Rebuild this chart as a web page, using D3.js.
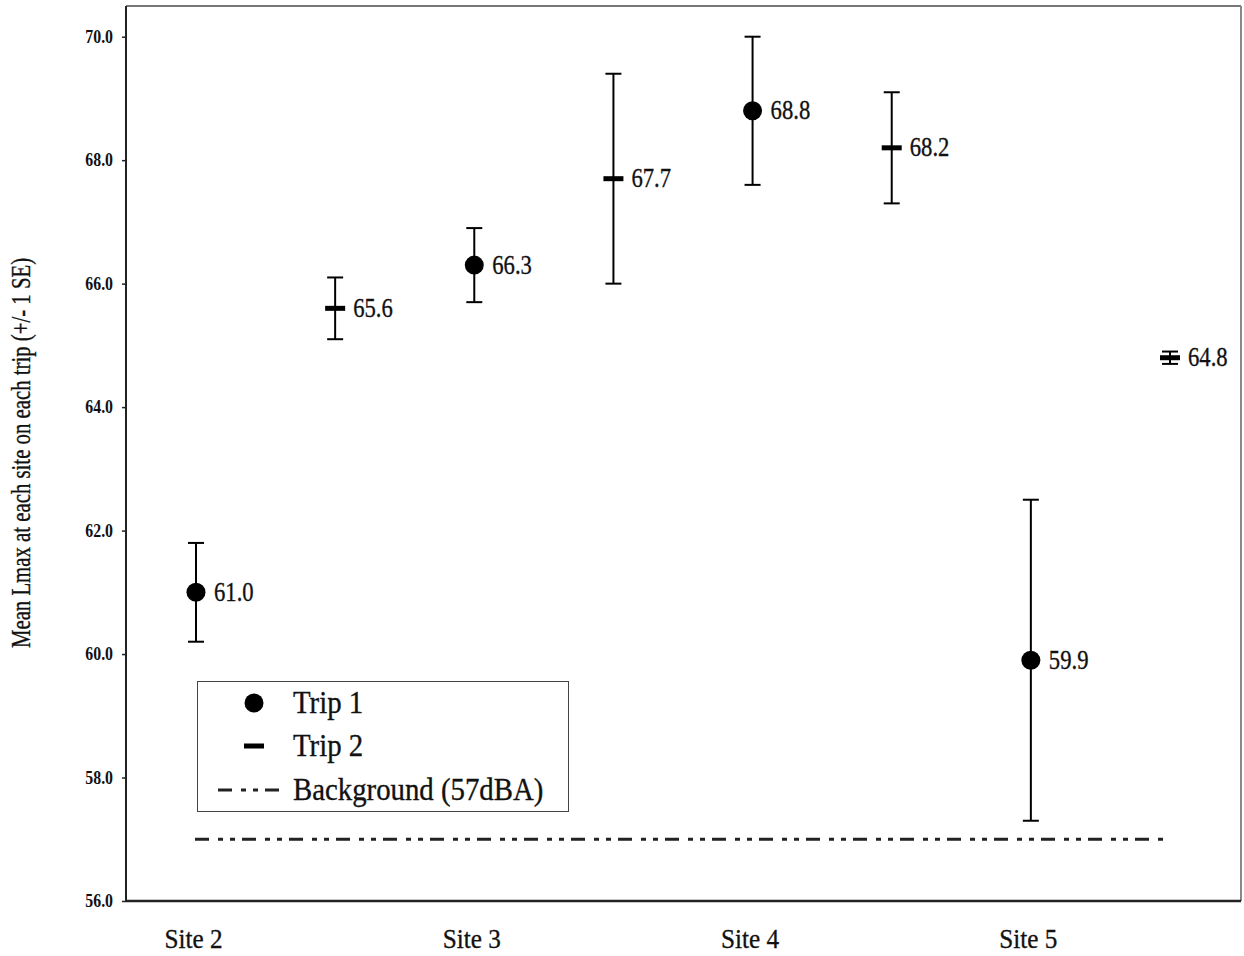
<!DOCTYPE html>
<html><head><meta charset="utf-8">
<script src="https://cdn.jsdelivr.net/npm/d3@7"></script>
<style>body{margin:0;background:#fff}</style>
</head><body>
<svg id="c" width="1244" height="956"></svg>
<script>
const sites = ["Site 2","Site 3","Site 4","Site 5"];
const trip1Mean = [61.0, 66.3, 68.8, 59.9];
const trip1Lo = [60.2, 65.7, 67.6, 57.3];
const trip1Hi = [61.8, 66.9, 70.0, 62.5];
const trip2Mean = [65.6, 67.7, 68.2, 64.8];
const trip2Lo = [65.1, 66.0, 67.3, 64.7];
const trip2Hi = [66.1, 69.4, 69.1, 64.9];
const background = 57;
const yTicks = [56,58,60,62,64,66,68,70];
const legendLabels = ["Trip 1","Trip 2","Background (57dBA)"];

const svg = d3.select("#c");
const L=126, R=1241, T=6, B=901;
const y = d3.scaleLinear().domain([56,70]).range([901,36.7]);
const slots = [];
sites.forEach(s=>{slots.push(s+"|1");slots.push(s+"|2");});
const x = d3.scalePoint().domain(slots).range([196,1170]);
const serif = "'Liberation Serif','DejaVu Serif',serif";

function txt(g, tx, ty, str, size, sx, opts={}){
  const t = g.append("text")
    .attr("transform",`translate(${tx},${ty})${opts.rot?` rotate(${opts.rot})`:""} scale(${sx},1)`)
    .attr("font-family",serif).attr("font-size",size).attr("fill","#111")
    .attr("stroke","#111").attr("stroke-width",0.35)
    .attr("text-anchor",opts.anchor||"start")
    .text(str);
  if(opts.bold) t.attr("font-weight","bold");
  return t;
}

// frame
svg.append("line").attr("x1",L).attr("x2",R).attr("y1",T).attr("y2",T).attr("stroke","#777").attr("stroke-width",2);
svg.append("line").attr("x1",R).attr("x2",R).attr("y1",T).attr("y2",B).attr("stroke","#888").attr("stroke-width",2);

// y axis
const ya = svg.append("g").attr("transform",`translate(${L},0)`)
  .call(d3.axisLeft(y).tickValues(yTicks).tickFormat(d3.format(".1f")).tickSize(4).tickSizeOuter(0));
ya.select(".domain").attr("stroke","#222").attr("stroke-width",2).attr("d",`M0,${T}V${B}`);
ya.selectAll(".tick line").attr("stroke","#222").attr("stroke-width",1.5);
ya.selectAll(".tick text").attr("font-family",serif).attr("font-size",18).attr("font-weight","bold").attr("fill","#111")
  .attr("x",0).attr("dy",0).attr("transform","translate(-13,5.5) scale(0.88,1)");

// x axis
const xa = svg.append("g").attr("transform",`translate(0,${B})`)
  .call(d3.axisBottom(x).tickValues(sites.map(s=>s+"|1")).tickFormat(d=>d.split("|")[0]).tickSize(0));
xa.select(".domain").attr("stroke","#222").attr("stroke-width",2.5).attr("d",`M${L},0H${R}`);
xa.selectAll(".tick text").attr("font-family",serif).attr("font-size",28).attr("fill","#111")
  .attr("stroke","#111").attr("stroke-width",0.35)
  .attr("y",0).attr("dy",0).attr("transform","translate(-3,47) scale(0.9,1)");

// y label
txt(svg, 30, 453, "Mean Lmax at each site on each trip (+/- 1 SE)", 27, 0.77, {rot:-90, anchor:"middle"});

// background line
svg.append("line").attr("x1",x(slots[0])-1).attr("x2",x(slots[slots.length-1])).attr("y1",y(background)).attr("y2",y(background))
  .attr("stroke","#222").attr("stroke-width",3).attr("stroke-dasharray","14,9,5,7,5,7");

function errbar(cx, lo, hi, cap){
  const g = svg.append("g").attr("stroke","#000").attr("stroke-width",2);
  g.append("line").attr("x1",cx).attr("x2",cx).attr("y1",y(lo)).attr("y2",y(hi));
  g.append("line").attr("x1",cx-cap).attr("x2",cx+cap).attr("y1",y(lo)).attr("y2",y(lo));
  g.append("line").attr("x1",cx-cap).attr("x2",cx+cap).attr("y1",y(hi)).attr("y2",y(hi));
}
sites.forEach((s,i)=>{
  const c1 = x(s+"|1"), c2 = x(s+"|2");
  errbar(c1, trip1Lo[i], trip1Hi[i], 8);
  svg.append("circle").attr("cx",c1).attr("cy",y(trip1Mean[i])).attr("r",9.5).attr("fill","#000");
  txt(svg, c1+18, y(trip1Mean[i])+8.5, trip1Mean[i].toFixed(1), 27, 0.84);
  errbar(c2, trip2Lo[i], trip2Hi[i], 8);
  svg.append("rect").attr("x",c2-10).attr("y",y(trip2Mean[i])-2.5).attr("width",20).attr("height",5).attr("fill","#000");
  txt(svg, c2+18, y(trip2Mean[i])+8.5, trip2Mean[i].toFixed(1), 27, 0.84);
});

// legend
const lg = svg.append("g");
lg.append("rect").attr("x",197.5).attr("y",681.5).attr("width",371).attr("height",130).attr("fill","#fff").attr("stroke","#444").attr("stroke-width",1);
lg.append("circle").attr("cx",254).attr("cy",703).attr("r",9.5).attr("fill","#000");
lg.append("rect").attr("x",244).attr("y",743.5).attr("width",20).attr("height",5).attr("fill","#000");
lg.append("line").attr("x1",218).attr("x2",288).attr("y1",790).attr("y2",790).attr("stroke","#222").attr("stroke-width",3).attr("stroke-dasharray","14,9,5,7,5,7");
[703,746,790].forEach((yy,k)=>txt(lg, 293, yy+10, legendLabels[k], 32, 0.9));
</script>
</body></html>
